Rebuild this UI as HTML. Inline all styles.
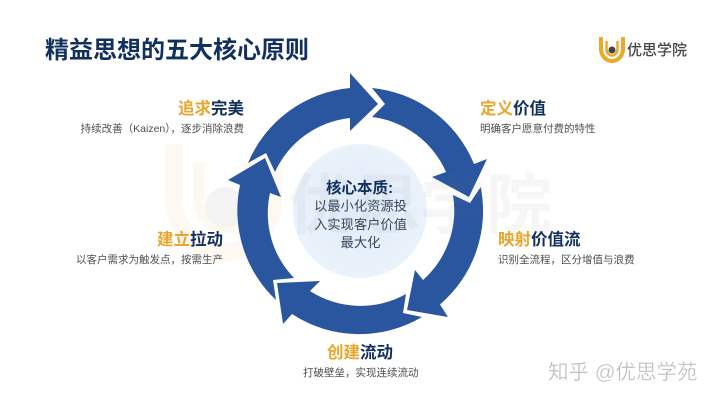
<!DOCTYPE html>
<html lang="zh">
<head>
<meta charset="utf-8">
<title>精益思想的五大核心原则</title>
<style>
html,body{margin:0;padding:0;background:#fff;width:720px;height:402px;overflow:hidden}
svg{display:block}
text{font-family:"Liberation Sans","Noto Sans CJK SC",sans-serif}
.h{font-size:16.5px;font-weight:700;fill:#12305e}
.o{fill:#e9a62c}
.s{font-size:10.5px;fill:#4f4f4f}
.c{font-size:13.3px;fill:#3d4a5e}
</style>
</head>
<body>
<svg width="720" height="402" viewBox="0 0 720 402" xmlns="http://www.w3.org/2000/svg">
<defs>
<radialGradient id="core" cx="50%" cy="50%" r="50%">
<stop offset="0" stop-color="#e0ebf7"/><stop offset="1" stop-color="#eaf2fb"/>
</radialGradient>
<g id="u" fill="none">
<path d="M601 37V49A11 12 0 0 0 623 49V37" stroke-width="4"/>
<path d="M606.500 41V49A5.500 6.500 0 0 0 617.500 49V41" stroke-width="2.500"/>
</g>
</defs>
<rect width="720" height="402" fill="#fff"/>

<!-- pale background logo -->
<g transform="translate(165 140) scale(4.5) translate(-599 -36)" opacity=".055" stroke="#eba928">
<use href="#u"/>
</g>
<circle cx="225" cy="207" r="20" fill="#f3f3f3"/>

<!-- core -->
<circle cx="360" cy="211" r="67" fill="url(#core)"/>

<!-- ring arrows -->
<g fill="#2a569f">
<path d="M248 163A123 123 0 0 1 350 88V73L378 104L350 131V118A93 93 0 0 0 275 172L266 153Z"/>
<path d="M372 88A123 123 0 0 1 474 164L487 159L469 197L432 177L446 172A93 93 0 0 0 372 117L385 104Z"/>
<path d="M480.700 187A123 123 0 0 1 440 304.500L448 317L407 310L415 270L423 280A93 93 0 0 0 453 195L470 203Z"/>
<path d="M422 317A123 123 0 0 1 292 314L283 324L277 283L320 281L310 291A93 93 0 0 0 406 294L403 313Z"/>
<path d="M276 300A123 123 0 0 1 240 185L228 180L265 158L281 197L270 193A93 93 0 0 0 294 278L273 280Z"/>
</g>

<!-- pale background text -->
<text x="288" y="228" font-size="66" font-weight="700" fill="#6f7480" opacity=".06">优思学院</text>

<!-- title -->
<text x="45" y="58" font-size="24" font-weight="700" fill="#12305e">精益思想的五大核心原则</text>

<!-- logo -->
<g stroke="#eba928"><use href="#u"/></g>
<circle cx="612" cy="50" r="3.500" fill="#444"/>
<text x="627" y="55" font-size="15" font-weight="500" fill="#454545">优思学院</text>

<!-- labels -->
<text x="178" y="114" class="h"><tspan class="o">追求</tspan>完美</text>
<text x="244" y="132" class="s" text-anchor="end">持续改善（Kaizen），逐步消除浪费</text>

<text x="480" y="114" class="h"><tspan class="o">定义</tspan>价值</text>
<text x="480" y="132" class="s">明确客户愿意付费的特性</text>

<text x="498" y="245" class="h"><tspan class="o">映射</tspan>价值流</text>
<text x="498" y="263" class="s">识别全流程，区分增值与浪费</text>

<text x="157" y="245" class="h"><tspan class="o">建立</tspan>拉动</text>
<text x="223" y="263" class="s" text-anchor="end">以客户需求为触发点，按需生产</text>

<text x="327" y="358" class="h"><tspan class="o">创建</tspan>流动</text>
<text x="303" y="376" class="s">打破壁垒，实现连续流动</text>

<!-- centre text -->
<text x="326" y="193" font-size="15.500" font-weight="700" fill="#12305e">核心本质:</text>
<text x="360.500" y="210.500" class="c" text-anchor="middle">以最小化资源投</text>
<text x="360.500" y="229" class="c" text-anchor="middle">入实现客户价值</text>
<text x="360.500" y="247" class="c" text-anchor="middle">最大化</text>

<!-- platform mark -->
<text x="548" y="379" font-size="20.500" fill="#bcbcbc" stroke="#fff" stroke-width=".3">知乎 @优思学苑</text>
</svg>
</body>
</html>
